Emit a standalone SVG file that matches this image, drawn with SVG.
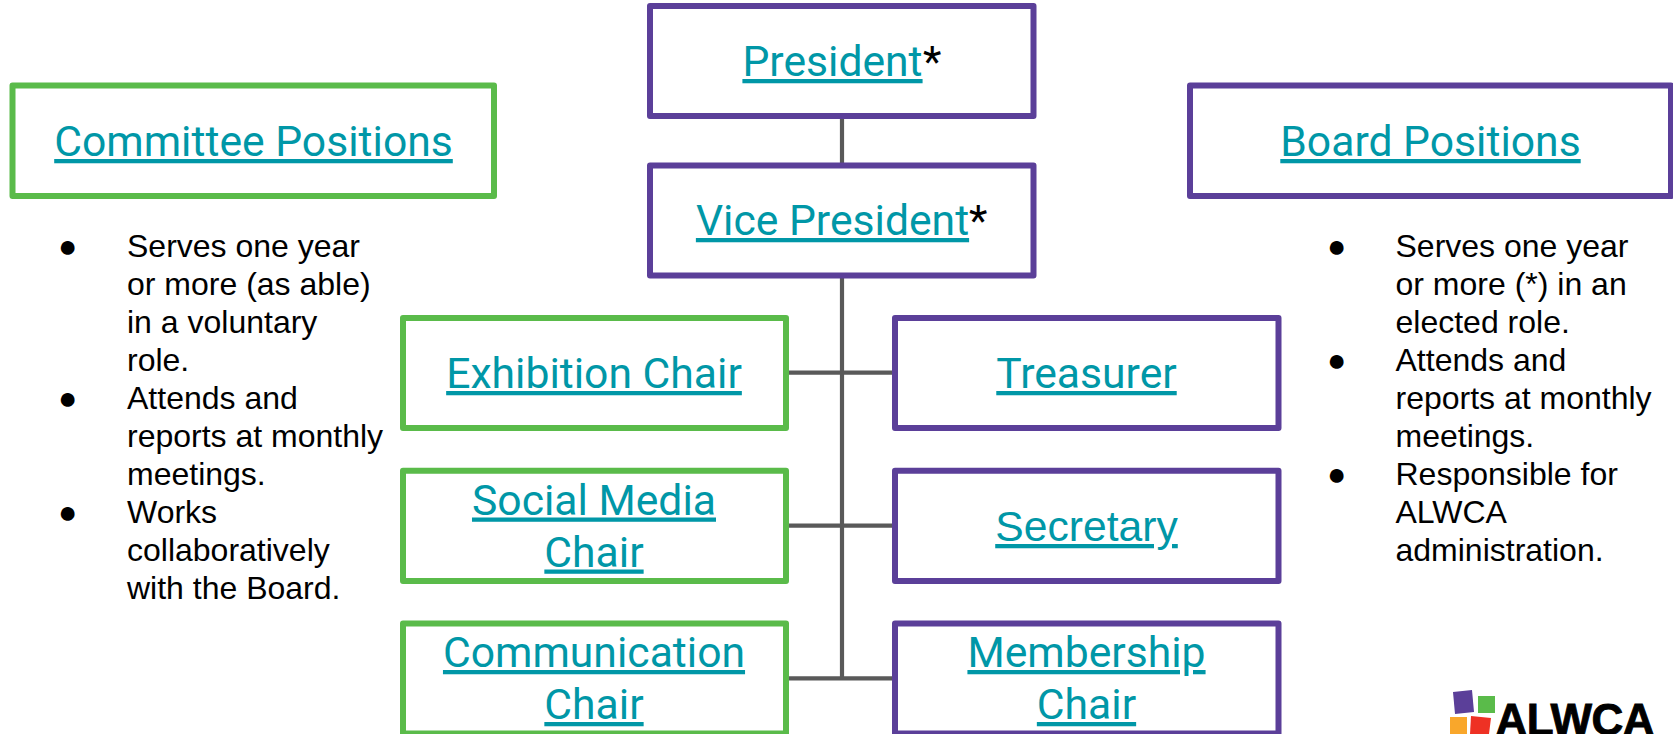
<svg xmlns="http://www.w3.org/2000/svg" width="1673" height="734" viewBox="0 0 1673 734">
<style>
text{font-family:Roboto,"Liberation Sans",sans-serif}
.box{fill:#fff;stroke-width:6;stroke-linejoin:round}
.p{stroke:#5b3f99}
.g{stroke:#5abb4a}
.t{font-size:42.67px;fill:#0097a7;text-anchor:middle;text-decoration:underline}
.a{font-size:42.67px;fill:#000}
.b{font-family:"Liberation Sans",Arial,sans-serif;font-size:32px;fill:#000}
.c{stroke:#595959;stroke-width:4.2;fill:none}
</style>
<rect width="1673" height="734" fill="#fff"/>
<g id="connectors">
<path class="c" d="M842 116V165M842 275V678M786 372.700H895M786 525.700H895M786 678.300H895"/>
</g>
<g id="president"><rect class="box p" x="650" y="6" width="383.500" height="110"/><text class="t" x="832.500" y="76">President</text><text class="a" x="923" y="76">*</text></g>
<g id="vice-president"><rect class="box p" x="650" y="165.500" width="383.500" height="110"/><text class="t" x="832.500" y="235">Vice President</text><text class="a" x="969" y="235">*</text></g>
<g id="committee-positions"><rect class="box g" x="12.500" y="85.500" width="481.500" height="110.500"/><text class="t" x="253.500" y="156">Committee Positions</text></g>
<g id="board-positions"><rect class="box p" x="1190" y="85.500" width="481" height="110.500"/><text class="t" x="1430.500" y="156">Board Positions</text></g>
<g id="exhibition-chair"><rect class="box g" x="403" y="318" width="383" height="110"/><text class="t" x="594" y="388">Exhibition Chair</text></g>
<g id="treasurer"><rect class="box p" x="895" y="318" width="383.500" height="110"/><text class="t" x="1086.500" y="388">Treasurer</text></g>
<g id="social-media-chair"><rect class="box g" x="403" y="470.700" width="383" height="110.300"/><text class="t" x="594" y="514.500">Social Media</text><text class="t" x="594" y="566.500">Chair</text></g>
<g id="secretary"><rect class="box p" x="895" y="470.700" width="383.500" height="110.300"/><text class="t" x="1086.500" y="541" style="font-family:'Liberation Sans',Arial,sans-serif">Secretary</text></g>
<g id="communication-chair"><rect class="box g" x="403" y="623.500" width="383" height="110"/><text class="t" x="594" y="667">Communication</text><text class="t" x="594" y="719">Chair</text></g>
<g id="membership-chair"><rect class="box p" x="895" y="623.500" width="383.500" height="110"/><text class="t" x="1086.500" y="667">Membership</text><text class="t" x="1086.500" y="719">Chair</text></g>
<g id="committee-notes">
<text class="b" x="58" y="257">●</text><text class="b" x="127" y="257">Serves one year</text>
<text class="b" x="127" y="295">or more (as able)</text>
<text class="b" x="127" y="333">in a voluntary</text>
<text class="b" x="127" y="371">role.</text>
<text class="b" x="58" y="409">●</text><text class="b" x="127" y="409">Attends and</text>
<text class="b" x="127" y="447">reports at monthly</text>
<text class="b" x="127" y="485">meetings.</text>
<text class="b" x="58" y="523">●</text><text class="b" x="127" y="523">Works</text>
<text class="b" x="127" y="561">collaboratively</text>
<text class="b" x="127" y="599">with the Board.</text>
</g>
<g id="board-notes">
<text class="b" x="1327" y="257">●</text><text class="b" x="1395.500" y="257">Serves one year</text>
<text class="b" x="1395.500" y="295">or more (*) in an</text>
<text class="b" x="1395.500" y="333">elected role.</text>
<text class="b" x="1327" y="371">●</text><text class="b" x="1395.500" y="371">Attends and</text>
<text class="b" x="1395.500" y="409">reports at monthly</text>
<text class="b" x="1395.500" y="447">meetings.</text>
<text class="b" x="1327" y="485">●</text><text class="b" x="1395.500" y="485">Responsible for</text>
<text class="b" x="1395.500" y="523">ALWCA</text>
<text class="b" x="1395.500" y="561">administration.</text>
</g>
<g id="logo">
<polygon points="1453,692 1472,690 1474,712 1455,714" fill="#5b3f99"/>
<rect x="1478" y="696" width="17" height="17" fill="#5abb4a"/>
<rect x="1450" y="717" width="17" height="17" fill="#f9a72b"/>
<polygon points="1471,716 1491,718 1489,734 1470,734" fill="#ee3124"/>
<text x="1495.500" y="735" font-size="44" font-weight="700" letter-spacing="-0.600" stroke="#000" stroke-width="0.900" style="font-family:'Liberation Sans',sans-serif">ALWCA</text>
</g>
</svg>
